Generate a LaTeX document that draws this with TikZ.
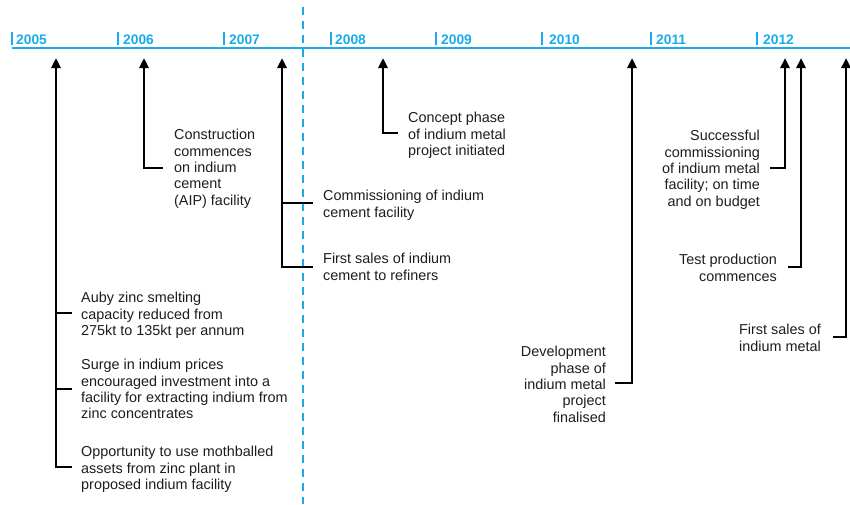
\documentclass[tikz,border=0pt]{standalone}
\usepackage{fontspec}
\setmainfont{Liberation Sans}
\usetikzlibrary{arrows.meta}
\definecolor{tlblue}{RGB}{25,172,235}
\definecolor{txt}{RGB}{30,28,28}
\tikzset{
  lbl/.style={inner sep=0pt, text=txt, font=\fontsize{14.4}{16.4}\selectfont},
  lblL/.style={lbl, anchor=north west, align=left},
  lblR/.style={lbl, anchor=north east, align=right},
  yr/.style={inner sep=0pt, anchor=base west, text=tlblue, font=\bfseries\fontsize{13.8}{16}\selectfont},
  tick/.style={draw=tlblue, line width=2.2pt},
  axis/.style={draw=tlblue, line width=2pt},
  divider/.style={draw=tlblue, line width=2.4pt, dash pattern=on 8pt off 6pt},
  arr/.style={draw=black, line width=2.8pt, -{Triangle[width=9pt,length=10pt]}},
  br/.style={draw=black, line width=2.8pt}
}
\begin{document}
\begin{tikzpicture}[x=1pt,y=-1pt]
\useasboundingbox (0,0) rectangle (850,504);
% axis
\coordinate (axL) at (12,47.5);
\coordinate (axR) at (850,47.5);
\draw[axis] (axL) -- (axR);
\coordinate (dT) at (303,7);
\coordinate (dB) at (303,504);
\draw[divider] (dT) -- (dB);
% ticks and years
\foreach \tx/\lx/\yy in {12/16/2005,118/123/2006,224/229/2007,331/335/2008,436/441/2009,542/549/2010,651/656/2011,757/763/2012}{
  \draw[tick] (\tx,32) -- (\tx,45);
  \node[yr] (y\yy) at (\lx,44) {\yy};
}
% arrow tips
\coordinate (a1) at (56,58);
\coordinate (a2) at (144,58);
\coordinate (a3) at (282,58);
\coordinate (a4) at (383,58);
\coordinate (a5) at (632,58);
\coordinate (a6) at (785,58);
\coordinate (a7) at (801,58);
\coordinate (a8) at (846,58);
% texts
\node[lblL] (t1) at (81,292) {Auby zinc smelting\\capacity reduced from\\275kt to 135kt per annum};
\node[lblL] (t2) at (81,359) {Surge in indium prices\\encouraged investment into a\\facility for extracting indium from\\zinc concentrates};
\node[lblL] (t3) at (81,446) {Opportunity to use mothballed\\assets from zinc plant in\\proposed indium facility};
\node[lblL] (t4) at (174,129) {Construction\\commences\\on indium\\cement\\(AIP) facility};
\node[lblL] (t5) at (323,190) {Commissioning of indium\\cement facility};
\node[lblL] (t6) at (323,253) {First sales of indium\\cement to refiners};
\node[lblL] (t7) at (408,112) {Concept phase\\of indium metal\\project initiated};
\node[lblR] (t8) at (606,346) {Development\\phase of\\indium metal\\project\\finalised};
\node[lblR] (t9) at (760,130) {Successful\\commissioning\\of indium metal\\facility; on time\\and on budget};
\node[lblR] (t10) at (777,254) {Test production\\commences};
\node[lblR] (t11) at (821,324) {First sales of\\indium metal};
% branch ends
\coordinate (b1) at (72,313);
\coordinate (b2) at (72,389);
\coordinate (b3) at (72,467);
\coordinate (b4) at (163,168);
\coordinate (b5) at (313,203);
\coordinate (b6) at (313,267);
\coordinate (b7) at (398,133);
\coordinate (b8) at (615,383);
\coordinate (b9) at (770,168);
\coordinate (b10) at (788,267);
\coordinate (b11) at (833,337);
% connectors
\draw[arr] (b3) -| (a1);
\draw[br] (b1) -- (b1 -| a1);
\draw[br] (b2) -- (b2 -| a1);
\draw[arr] (b4) -| (a2);
\draw[arr] (b6) -| (a3);
\draw[br] (b5) -- (b5 -| a3);
\draw[arr] (b7) -| (a4);
\draw[arr] (b8) -| (a5);
\draw[arr] (b9) -| (a6);
\draw[arr] (b10) -| (a7);
\draw[arr] (b11) -| (a8);
\end{tikzpicture}
\end{document}
